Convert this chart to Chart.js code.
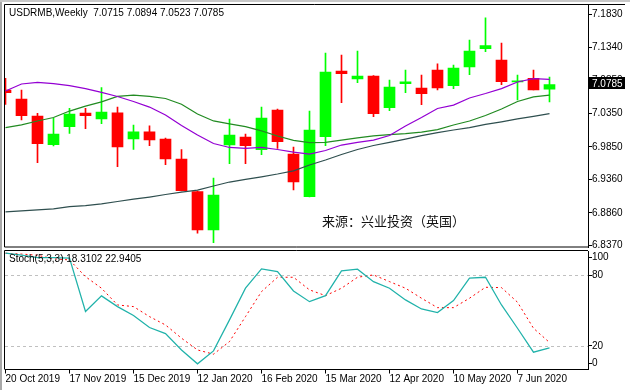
<!DOCTYPE html>
<html><head><meta charset="utf-8">
<script src="https://cdn.jsdelivr.net/npm/chart.js@4.4.1/dist/chart.umd.min.js"></script>
<style>
html,body{margin:0;padding:0;background:#fff;width:630px;height:390px;overflow:hidden;position:relative}
#c1{position:absolute;left:0;top:0}
#c2{position:absolute;left:0;top:249px}
.fl{position:absolute;left:0;top:0;width:2px;height:390px;background:#a8a8a8}
.ft{position:absolute;left:0;top:0;width:630px;height:2px;background:#c8c8c8}
</style></head>
<body>
<canvas id="c1" width="630" height="250"></canvas>
<canvas id="c2" width="630" height="141"></canvas>
<div class="fl"></div><div class="ft"></div>
<script>
// ---- data ----
const symbol = "USDRMB";
const period = "Weekly";
const tickIdx = [0, 4, 8, 12, 16, 20, 24, 28, 32];
const tickLabels = ["20 Oct 2019","17 Nov 2019","15 Dec 2019","12 Jan 2020","16 Feb 2020","15 Mar 2020","12 Apr 2020","10 May 2020","7 Jun 2020"];
const opens  = [7.0702,7.0567,7.0313,6.9883,7.0152,7.0357,7.0268,7.0362,6.9968,7.0077,6.9968,6.9669,6.9179,6.8605,6.9878,6.9998,6.9808,7.0402,6.9743,6.9104,7.0003,7.0987,7.0867,7.0912,7.0437,7.0796,7.0732,7.1002,7.0766,7.1047,7.1321,7.1151,7.0822,7.0877,7.0715];
const highs  = [7.0877,7.0702,7.0353,7.0278,7.0428,7.0428,7.0737,7.0447,7.0178,7.0167,6.9983,6.9808,6.9189,6.9384,7.0268,7.0043,7.0447,7.0417,6.9848,7.0387,7.1256,7.1226,7.1286,7.0920,7.0852,7.1002,7.0927,7.1096,7.1076,7.1451,7.1785,7.1406,7.0927,7.1002,7.0894];
const lows   = [7.0488,7.0253,6.9613,6.9863,7.0053,7.0122,7.0197,6.9553,6.9814,6.9868,6.9583,6.9190,6.8556,6.8415,6.9598,6.9598,6.9733,6.9829,6.9204,6.9100,6.9868,7.0512,7.0811,7.0302,7.0392,7.0662,7.0482,7.0702,7.0721,7.0931,7.1276,7.0781,7.0552,7.0702,7.0523];
const closes = [7.0662,7.0317,6.9898,7.0043,7.0343,7.0317,7.0373,6.9848,7.0077,6.9953,6.9669,6.9194,6.8605,6.9129,7.0028,6.9868,7.0283,6.9928,6.9324,7.0103,7.0972,7.0946,7.0912,7.0347,7.0747,7.0826,7.0647,7.0732,7.1032,7.1286,7.1366,7.0826,7.0841,7.0702,7.0785];
const maFast = [7.0687,7.0792,7.0817,7.0799,7.0769,7.0724,7.0665,7.0605,7.0530,7.0447,7.0328,7.0170,7.0028,6.9901,6.9841,6.9829,6.9841,6.9811,6.9773,6.9743,6.9796,6.9878,6.9916,6.9953,7.0020,7.0163,7.0290,7.0425,7.0477,7.0582,7.0650,7.0724,7.0822,7.0874,7.0862];
const maMid  = [7.0137,7.0181,7.0238,7.0290,7.0387,7.0462,7.0525,7.0605,7.0624,7.0608,7.0575,7.0489,7.0343,7.0238,7.0196,7.0155,7.0091,7.0013,6.9949,6.9913,6.9919,6.9953,6.9986,7.0016,7.0034,7.0050,7.0073,7.0110,7.0178,7.0238,7.0320,7.0417,7.0530,7.0600,7.0627];
const maSlow = [6.8875,6.8890,6.8905,6.8923,6.8956,6.8972,6.8995,6.9032,6.9066,6.9099,6.9137,6.9171,6.9204,6.9264,6.9324,6.9364,6.9402,6.9444,6.9492,6.9579,6.9654,6.9736,6.9811,6.9871,6.9919,6.9968,7.0020,7.0065,7.0103,7.0140,7.0188,7.0226,7.0268,7.0308,7.0350];
const stochMain   = [98.7,97,95,95,94.5,49.2,62.5,53.4,45.8,35.6,30.5,16.6,4.8,15.8,42.1,69,85.4,83.1,66.7,57.6,62.7,83.7,85.1,74.6,69,59.1,51.4,48.3,58.5,77.5,78.3,54.8,35,14.7,18.3102];
const stochSignal = [98.7,98,97,94,93,78.8,69,54.8,53.4,44.9,37.8,26.6,16.6,13,23.7,44.9,66.1,78.3,78.3,67.6,62.7,69,78.3,80.3,74.6,69,60.5,52.5,52.5,60.5,69.8,69.5,57.1,35,22.9405];
const priceTicks = [7.1830,7.1340,7.0850,7.0350,6.9850,6.9360,6.8860,6.8370];
const stochTickText = ["100","80","20","0"];
const stochTickPos  = [94.9, 80, 20, 5.1];
const stochLevels = [80, 20];
const sourceText = "来源：兴业投资（英国）";

// ---- styling ----
const UP = '#00ff00', DN = '#ff0000';
const FONT = {family: 'Liberation Sans', size: 10};
const xMin = -0.03125, xMax = 36.40625;

const candleColors = opens.map((o, i) => closes[i] >= o ? UP : DN);
const wickData = highs.map((h, i) => ({x: i, y: [lows[i], h]}));
const bodyData = opens.map((o, i) => ({x: i, y: [o, closes[i]]}));
const pts = arr => arr.map((v, i) => ({x: i, y: v}));
const lineDs = (arr, color, extra) => Object.assign({type: 'line', data: pts(arr), borderColor: color, borderWidth: 1.25, pointRadius: 0, tension: 0, order: 0}, extra || {});

const mainPlugin = {
  id: 'mainDeco',
  afterDraw(chart) {
    const {ctx, chartArea: a, scales} = chart;
    ctx.save();
    ctx.strokeStyle = '#000'; ctx.lineWidth = 1;
    ctx.beginPath();
    ctx.moveTo(4.5, a.bottom - 0.5); ctx.lineTo(4.5, 4.5); ctx.lineTo(625, 4.5);
    ctx.moveTo(4.5, a.bottom - 0.5); ctx.lineTo(588, a.bottom - 0.5);
    ctx.stroke();
    ctx.fillStyle = '#000';
    ctx.font = '10px "Liberation Sans"';
    ctx.textBaseline = 'middle';
    const n = opens.length - 1;
    const title = symbol + ',' + period + '  ' + [opens[n], highs[n], lows[n], closes[n]].map(v => v.toFixed(4)).join(' ');
    ctx.fillText(title, 9, 13.5);
    ctx.font = '13px "Noto Sans CJK SC"';
    ctx.fillStyle = '#111';
    ctx.fillText(sourceText, 322, 221);
    // current price box
    const yp = scales.y.getPixelForValue(closes[n]);
    ctx.fillStyle = '#000';
    ctx.fillRect(588, Math.round(yp) - 7, 37, 12);
    ctx.fillStyle = '#fff';
    ctx.font = '10px "Liberation Sans"';
    ctx.fillText(closes[n].toFixed(4), 592, yp);
    ctx.restore();
  }
};

new Chart(document.getElementById('c1'), {
  type: 'bar',
  data: {datasets: [
    lineDs(maFast, '#9400d3'),
    lineDs(maMid, '#228b22'),
    lineDs(maSlow, '#2f4f4f'),
    {type: 'bar', data: bodyData, backgroundColor: candleColors, grouped: false, barPercentage: 1, categoryPercentage: 1, maxBarThickness: 11, minBarLength: 1, borderWidth: 0, order: 1},
    {type: 'bar', data: wickData, backgroundColor: candleColors, grouped: false, barPercentage: 1, categoryPercentage: 1, maxBarThickness: 1, borderWidth: 0, order: 2}
  ]},
  options: {
    responsive: false, animation: false, events: [],
    layout: {padding: {left: 5, top: 5, right: 0, bottom: 2.5}},
    plugins: {legend: {display: false}, tooltip: {enabled: false}},
    scales: {
      x: {type: 'linear', min: xMin, max: xMax, offset: false, display: false},
      y: {
        position: 'right', min: 6.83431, max: 7.19753,
        afterBuildTicks: s => { s.ticks = priceTicks.map(v => ({value: v})); },
        afterFit: s => { s.width = 42; s.paddingTop = 0; s.paddingBottom = 0; },
        ticks: {autoSkip: false, padding: 0, color: '#000', font: FONT, callback: v => Number(v).toFixed(4)},
        grid: {drawOnChartArea: false, tickLength: 4, color: '#000'},
        border: {color: '#000'}
      }
    }
  },
  plugins: [mainPlugin]
});

const stochPlugin = {
  id: 'stochDeco',
  beforeDatasetsDraw(chart) {
    const {ctx, chartArea: a, scales} = chart;
    ctx.save();
    ctx.strokeStyle = '#c0c0c0'; ctx.lineWidth = 1; ctx.setLineDash([3, 3]);
    stochLevels.forEach(l => {
      const y = Math.round(scales.y.getPixelForValue(l)) + 0.5;
      ctx.beginPath(); ctx.moveTo(a.left, y); ctx.lineTo(a.right, y); ctx.stroke();
    });
    ctx.restore();
  },
  afterDraw(chart) {
    const {ctx, chartArea: a} = chart;
    ctx.save();
    ctx.strokeStyle = '#000'; ctx.lineWidth = 1;
    ctx.beginPath();
    ctx.moveTo(4.5, a.bottom); ctx.lineTo(4.5, 1.5); ctx.lineTo(588, 1.5);
    ctx.stroke();
    ctx.fillStyle = '#000';
    ctx.font = '10px "Liberation Sans"';
    ctx.textBaseline = 'middle';
    const n = stochMain.length - 1;
    ctx.fillText('Stoch(5,3,3) ' + stochMain[n].toFixed(4) + ' ' + stochSignal[n].toFixed(4), 9, 10.7);
    ctx.restore();
  }
};

new Chart(document.getElementById('c2'), {
  type: 'line',
  data: {datasets: [
    lineDs(stochSignal, '#ff0000', {borderDash: [2, 3], borderWidth: 1, order: 1}),
    lineDs(stochMain, '#20b2aa', {order: 0})
  ]},
  options: {
    responsive: false, animation: false, events: [],
    layout: {padding: {left: 5, top: 2.7, right: 0, bottom: 0}},
    plugins: {legend: {display: false}, tooltip: {enabled: false}},
    scales: {
      x: {
        type: 'linear', min: xMin, max: xMax, offset: false, position: 'bottom',
        afterBuildTicks: s => { s.ticks = tickIdx.map(v => ({value: v})); },
        afterFit: s => { s.height = 20.5; s.paddingLeft = 0; s.paddingRight = 0; },
        ticks: {autoSkip: false, maxRotation: 0, minRotation: 0, align: 'start', padding: 0, color: '#000', font: FONT, callback: (v, i) => tickLabels[i]},
        grid: {drawOnChartArea: false, tickLength: 4, color: '#000'},
        border: {color: '#000'}
      },
      y: {
        position: 'right', min: 0, max: 100,
        afterBuildTicks: s => { s.ticks = stochTickPos.map(v => ({value: v})); },
        afterFit: s => { s.width = 42; s.paddingTop = 0; s.paddingBottom = 0; },
        ticks: {autoSkip: false, padding: 0, color: '#000', font: FONT, callback: (v, i) => stochTickText[i]},
        grid: {drawOnChartArea: false, tickLength: 4, color: '#000'},
        border: {color: '#000'}
      }
    }
  },
  plugins: [stochPlugin]
});
</script>
</body></html>
